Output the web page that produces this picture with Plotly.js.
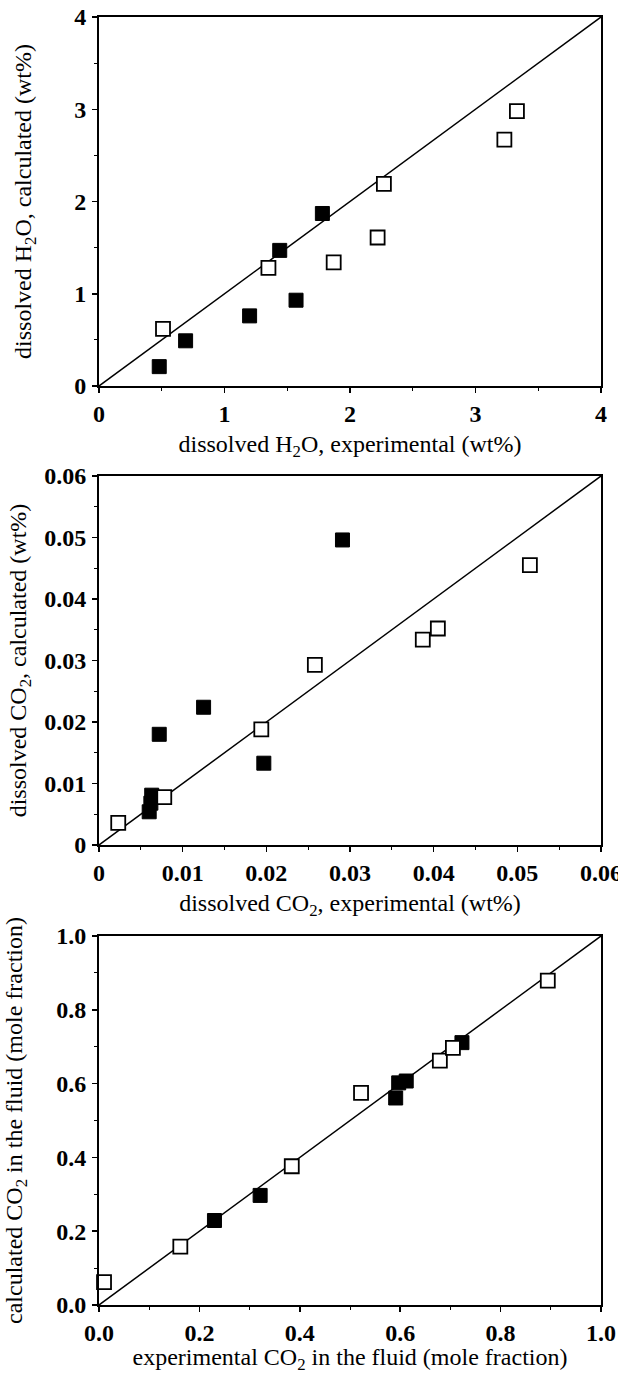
<!DOCTYPE html>
<html>
<head>
<meta charset="utf-8">
<script src="https://cdn.plot.ly/plotly-3.0.1.min.js"></script>
<style>html,body{margin:0;padding:0;background:#fff;}#chart{width:618px;height:1374px;}</style>
</head>
<body>
<div id="chart"></div>
<script>
// Panel 1: dissolved H2O (wt%)
const h2oFilledExp  = [0.48, 0.69, 1.20, 1.44, 1.57, 1.78];
const h2oFilledCalc = [0.21, 0.49, 0.76, 1.47, 0.93, 1.87];
const h2oOpenExp    = [0.51, 1.35, 1.87, 2.22, 2.27, 3.23, 3.33];
const h2oOpenCalc   = [0.62, 1.28, 1.34, 1.61, 2.19, 2.67, 2.98];
const h2oLine       = [0, 4];

// Panel 2: dissolved CO2 (wt%)
const co2FilledExp  = [0.0291, 0.0125, 0.0072, 0.0197, 0.0063, 0.0062, 0.0060];
const co2FilledCalc = [0.0496, 0.0224, 0.0180, 0.0133, 0.0081, 0.0068, 0.0054];
const co2OpenExp    = [0.0023, 0.0078, 0.0194, 0.0258, 0.0387, 0.0405, 0.0515];
const co2OpenCalc   = [0.0036, 0.0078, 0.0188, 0.0293, 0.0334, 0.0352, 0.0455];
const co2Line       = [0, 0.06];

// Panel 3: CO2 in the fluid (mole fraction)
const xFilledExp  = [0.230, 0.321, 0.591, 0.597, 0.612, 0.723];
const xFilledCalc = [0.229, 0.297, 0.561, 0.602, 0.607, 0.711];
const xOpenExp    = [0.010, 0.162, 0.384, 0.522, 0.679, 0.705, 0.894];
const xOpenCalc   = [0.062, 0.158, 0.376, 0.575, 0.662, 0.697, 0.879];
const xLine       = [0, 1];

const serif = '"Liberation Serif", "Times New Roman", serif';
const filledMarker = {symbol: 'square', size: 14, color: '#000', line: {color: '#000', width: 1}};
const openMarker = {symbol: 'square', size: 14, color: '#fff', line: {color: '#000', width: 1.8}};
const lineStyle = {color: '#000', width: 1.5};

function lineTrace(arr, xa, ya) {
  return {x: arr, y: arr, mode: 'lines', line: lineStyle, xaxis: xa, yaxis: ya, hoverinfo: 'skip'};
}
function pts(x, y, m, xa, ya) {
  return {x: x, y: y, mode: 'markers', marker: m, xaxis: xa, yaxis: ya, cliponaxis: false};
}

const data = [
  lineTrace(h2oLine, 'x', 'y'),
  pts(h2oFilledExp, h2oFilledCalc, filledMarker, 'x', 'y'),
  pts(h2oOpenExp, h2oOpenCalc, openMarker, 'x', 'y'),
  lineTrace(co2Line, 'x2', 'y2'),
  pts(co2FilledExp, co2FilledCalc, filledMarker, 'x2', 'y2'),
  pts(co2OpenExp, co2OpenCalc, openMarker, 'x2', 'y2'),
  lineTrace(xLine, 'x3', 'y3'),
  pts(xFilledExp, xFilledCalc, filledMarker, 'x3', 'y3'),
  pts(xOpenExp, xOpenCalc, openMarker, 'x3', 'y3')
];

const H = 1374;
function dom(top, bottom) { return [1 - bottom / H, 1 - top / H]; }
const xdom = [99 / 618, 601 / 618];
const tickFont = {family: serif, size: 24, color: '#000', weight: 'bold'};
const titleFont = {family: serif, size: 24, color: '#000'};

function common(range, dtick, minor, fmt) {
  return {
    range: range, dtick: dtick, tick0: 0, tickformat: fmt,
    showgrid: false, zeroline: false, showline: true, linecolor: '#000', linewidth: 2, mirror: true,
    ticks: 'outside', ticklen: 5, tickwidth: 1.5, tickcolor: '#000',
    minor: {dtick: minor, tick0: 0, ticks: 'outside', ticklen: 3, tickwidth: 1, tickcolor: '#000', showgrid: false},
    ticklabeloverflow: 'allow',
    tickfont: tickFont,
    fixedrange: true
  };
}
function xAxis(range, dtick, minor, fmt, title, anchor) {
  return Object.assign(common(range, dtick, minor, fmt), {
    domain: xdom, anchor: anchor, ticklabelstandoff: 0,
    title: {text: title, font: titleFont, standoff: 9}
  });
}
function yAxis(range, dtick, minor, fmt, title, d, anchor, standoff) {
  return Object.assign(common(range, dtick, minor, fmt), {
    domain: d, anchor: anchor, ticklabelstandoff: 1,
    title: {text: title, font: titleFont, standoff: standoff}
  });
}

const layout = {
  width: 618, height: 1374,
  margin: {l: 0, r: 0, t: 0, b: 0},
  paper_bgcolor: '#fff', plot_bgcolor: '#fff',
  showlegend: false,
  font: {family: serif, color: '#000'},
  xaxis: xAxis([0, 4], 1, 0.5, '', 'dissolved H<sub>2</sub>O, experimental (wt%)', 'y'),
  yaxis: yAxis([0, 4], 1, 0.5, '', 'dissolved H<sub>2</sub>O, calculated (wt%)', dom(17, 386), 'x', 36),
  xaxis2: xAxis([0, 0.06], 0.01, 0.005, '', 'dissolved CO<sub>2</sub>, experimental (wt%)', 'y2'),
  yaxis2: yAxis([0, 0.06], 0.01, 0.005, '', 'dissolved CO<sub>2</sub>, calculated (wt%)', dom(476, 845), 'x2', 11),
  xaxis3: xAxis([0, 1], 0.2, 0.1, '.1f', 'experimental CO<sub>2</sub> in the fluid (mole fraction)', 'y3'),
  yaxis3: yAxis([0, 1], 0.2, 0.1, '.1f', 'calculated CO<sub>2</sub> in the fluid (mole fraction)', dom(936, 1305), 'x3', 27)
};

Plotly.newPlot('chart', data, layout, {displayModeBar: false, staticPlot: true});
</script>
</body>
</html>
